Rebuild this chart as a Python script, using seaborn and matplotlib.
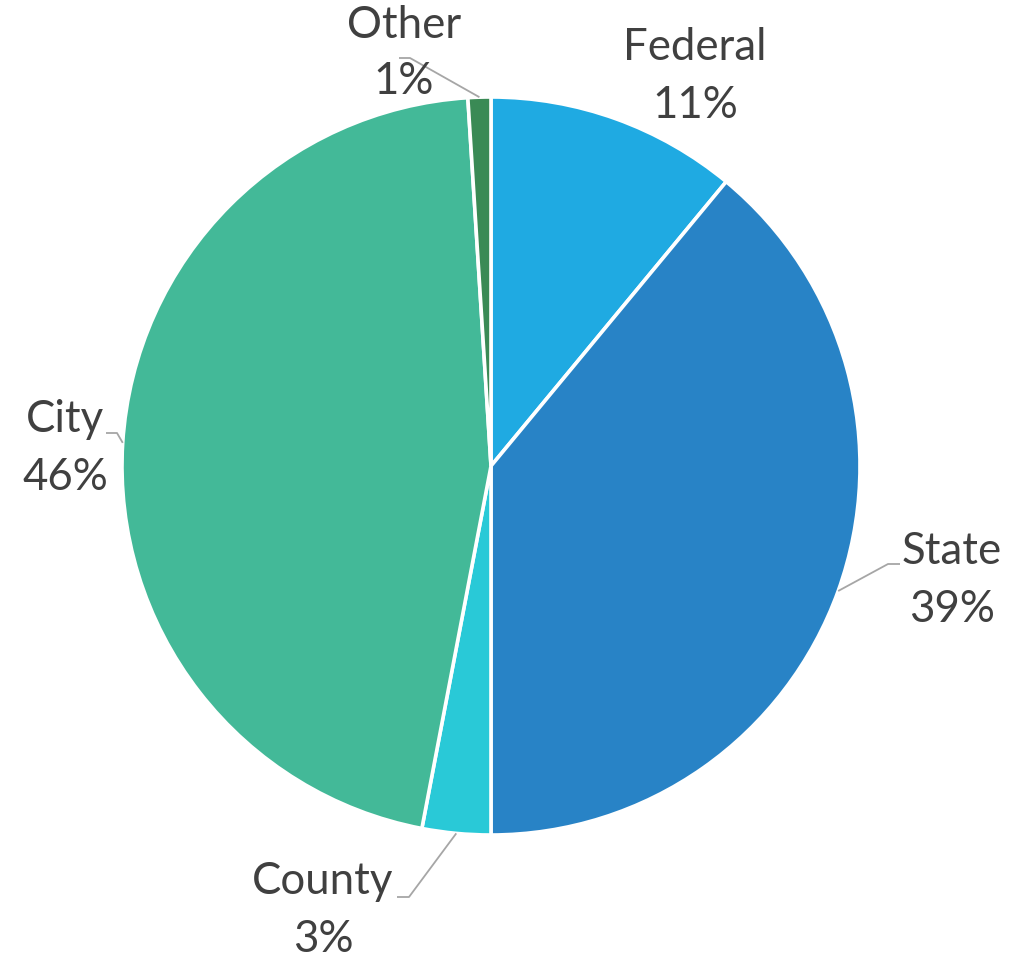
import numpy as np
import matplotlib
matplotlib.use("Agg")
import matplotlib.pyplot as plt
import seaborn as sns

# Funding share by level of government
categories = ["Federal", "State", "County", "City", "Other"]
shares = [11, 39, 3, 46, 1]
colors = ["#1FAAE2", "#2883C6", "#29C9D7", "#43B998", "#3A8A55"]

sns.set_theme(style="white")
plt.rcParams["font.family"] = ["Lato", "DejaVu Sans"]

W, H = 1028, 960
fig = plt.figure(figsize=(W / 100, H / 100), dpi=100)
ax = fig.add_axes([0, 0, 1, 1])

cx, cy, r = 491, H - 466, 369
wedges, _ = ax.pie(
    shares, colors=colors, startangle=90, counterclock=False,
    center=(cx, cy), radius=r, frame=True,
    wedgeprops=dict(edgecolor="white", linewidth=2.6),
)
ax.set_xlim(0, W)
ax.set_ylim(0, H)
ax.set_aspect("equal")
ax.axis("off")

# label placement (pixel centres of the name line) and leader-line elbows
label_pos = {
    "Federal": (695, 48),
    "State": (952, 552),
    "County": (323, 882),
    "City": (65, 420),
    "Other": (404, 25),
}
elbows = {
    "State": [(888, 564), (900, 564)],
    "County": [(409, 897), (397, 897)],
    "City": [(117, 433), (106, 433)],
    "Other": [(410, 58), (399, 58)],
}

text_color = "#404040"
line_color = "#A6A6A6"
for w, name, val in zip(wedges, categories, shares):
    x, y = label_pos[name]
    ax.text(x, H - y, name, ha="center", va="center", fontsize=31.5, color=text_color)
    ax.text(x, H - y - 57, f"{val}%", ha="center", va="center", fontsize=31.5, color=text_color)
    if name in elbows:
        mid = np.deg2rad((w.theta1 + w.theta2) / 2)
        sx, sy = cx + r * np.cos(mid), cy + r * np.sin(mid)
        pts = [(sx, sy)] + [(px, H - py) for px, py in elbows[name]]
        xs, ys = zip(*pts)
        ax.plot(xs, ys, color=line_color, linewidth=1.3, solid_capstyle="butt")

fig.savefig("out.png", dpi=100)
